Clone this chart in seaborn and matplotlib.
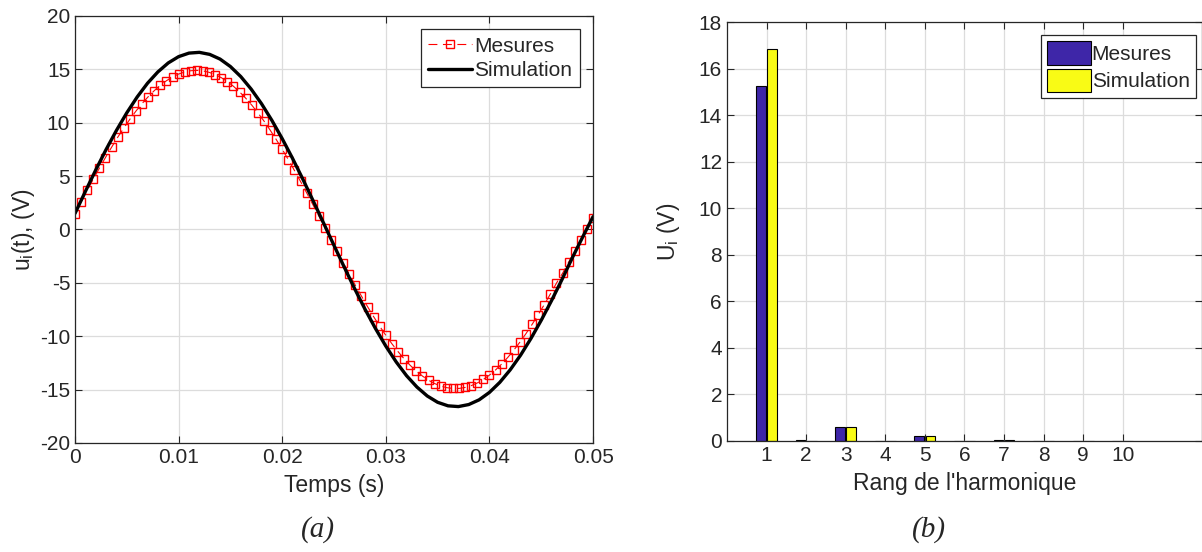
import numpy as np
import pandas as pd
import matplotlib
matplotlib.use("Agg")
import matplotlib.pyplot as plt
import seaborn as sns

# (a) measured voltage, one sample every 0.05/85 s
t_mes = np.linspace(0, 0.05, 86)
u_mes = [1.49, 2.58, 3.66, 4.71, 5.74, 6.74, 7.70, 8.63, 9.50, 10.32,
         11.09, 11.79, 12.43, 13.00, 13.51, 13.93, 14.29, 14.56, 14.75, 14.87,
         14.90, 14.85, 14.72, 14.51, 14.22, 13.85, 13.41, 12.89, 12.30, 11.65,
         10.93, 10.16, 9.32, 8.44, 7.51, 6.54, 5.53, 4.50, 3.44, 2.36,
         1.26, 0.16, -0.94, -2.03, -3.12, -4.18, -5.23, -6.24, -7.23, -8.17,
         -9.07, -9.92, -10.71, -11.44, -12.12, -12.73, -13.26, -13.73, -14.12, -14.43,
         -14.67, -14.82, -14.89, -14.89, -14.80, -14.63, -14.38, -14.05, -13.64, -13.16,
         -12.61, -11.99, -11.30, -10.55, -9.75, -8.89, -7.98, -7.03, -6.04, -5.02,
         -4.10, -3.05, -2.00, -0.95, 0.05, 1.10]

# (a) simulated voltage, one sample every 1 ms
t_sim = np.linspace(0, 0.05, 51)
u_sim = [1.50, 3.56, 5.57, 7.49, 9.28, 10.93, 12.41, 13.70, 14.76, 15.60,
         16.19, 16.52, 16.59, 16.40, 15.96, 15.26, 14.32, 13.15, 11.78, 10.22,
         8.50, 6.65, 4.69, 2.65, 0.58, -1.50, -3.56, -5.57, -7.49, -9.28,
         -10.93, -12.41, -13.70, -14.76, -15.60, -16.19, -16.52, -16.59, -16.40, -15.96,
         -15.26, -14.32, -13.15, -11.78, -10.22, -8.50, -6.65, -4.69, -2.65, -0.70,
         1.20]

# (b) harmonic spectrum
harmonics = [1, 2, 3, 4, 5, 6, 7, 8, 9, 10]
spec_mes = [15.25, 0.04, 0.58, 0.01, 0.20, 0.01, 0.04, 0.01, 0.01, 0.0]
spec_sim = [16.85, 0.02, 0.62, 0.01, 0.20, 0.01, 0.03, 0.0, 0.0, 0.0]

sns.set_style("ticks")
plt.rcParams['font.family'] = ['Liberation Sans', 'DejaVu Sans']
plt.rcParams['mathtext.fontset'] = 'custom'
plt.rcParams['mathtext.rm'] = 'Liberation Sans'
plt.rcParams['axes.unicode_minus'] = False
plt.rcParams['legend.numpoints'] = 1

dark = '#262626'
fs = 15
fs_lab = 16.5

fig = plt.figure(figsize=(12.02, 5.52), dpi=100)
ax1 = fig.add_axes([0.0624, 0.1975, 0.431, 0.7736])
ax2 = fig.add_axes([0.6048, 0.2011, 0.3952, 0.759])


def style_axes(ax):
    ax.grid(True, color='#dcdcdc', linewidth=0.9)
    ax.set_axisbelow(True)
    ax.tick_params(direction='in', top=True, right=True, length=5,
                   width=0.8, color=dark, labelcolor=dark, labelsize=fs)
    for sp in ax.spines.values():
        sp.set_visible(True)
        sp.set_color(dark)
        sp.set_linewidth(0.9)


# ---- (a) time signals
sns.lineplot(x=t_mes, y=u_mes, ax=ax1, color='red', linestyle=(0, (8, 5)),
             linewidth=0.8, marker='s', markersize=5.5, markerfacecolor='none',
             markeredgecolor='red', markeredgewidth=1.0, label='Mesures')
sns.lineplot(x=t_sim, y=u_sim, ax=ax1, color='black', linewidth=2.4,
             label='Simulation')
ax1.set_xlim(0, 0.05)
ax1.set_ylim(-20, 20)
ax1.set_xticks([0, 0.01, 0.02, 0.03, 0.04, 0.05])
ax1.set_xticklabels(['0', '0.01', '0.02', '0.03', '0.04', '0.05'])
ax1.set_yticks(range(-20, 21, 5))
style_axes(ax1)
ax1.set_xlabel('Temps (s)', fontsize=fs_lab, color=dark, labelpad=5)
ax1.set_ylabel(r'u$_\mathregular{i}$(t), (V)', fontsize=fs_lab, color=dark, labelpad=2)
leg1 = ax1.legend(loc='upper right', fontsize=fs, frameon=True, fancybox=False,
                  edgecolor=dark, framealpha=1, borderaxespad=0.65,
                  handlelength=2.1, handletextpad=0.1, borderpad=0.35,
                  labelspacing=0.25)
leg1.get_frame().set_linewidth(0.9)

# ---- (b) harmonic bars
df = pd.DataFrame({
    'rang': harmonics * 2,
    'val': spec_mes + spec_sim,
    'src': ['Mesures'] * len(harmonics) + ['Simulation'] * len(harmonics),
})
sns.barplot(data=df, x='rang', y='val', hue='src', ax=ax2, native_scale=True,
            palette=['#3e26a8', '#f9fb15'], width=0.56, gap=0.12,
            edgecolor='black', linewidth=0.8, saturation=1)
ax2.set_xlim(0, 12)
ax2.set_ylim(0, 18)
ax2.set_xticks(harmonics)
ax2.set_xticklabels([str(h) for h in harmonics])
ax2.set_yticks(range(0, 19, 2))
style_axes(ax2)
ax2.set_xlabel("Rang de l'harmonique", fontsize=fs_lab, color=dark, labelpad=5)
ax2.set_ylabel(r'U$_\mathregular{i}$ (V)', fontsize=fs_lab, color=dark, labelpad=12)
leg2 = ax2.legend(loc='upper right', bbox_to_anchor=(1 - 6 / 475, 1 - 13 / 419),
                  borderaxespad=0, fontsize=fs, frameon=True, fancybox=False,
                  edgecolor=dark, framealpha=1,
                  handlelength=2.1, handleheight=1.35, handletextpad=0.05,
                  borderpad=0.3, labelspacing=0.2, title=None)
leg2.get_frame().set_linewidth(0.9)

fig.text(318 / 1202, 1 - 530 / 552, '(a)', ha='center', va='center',
         family='Liberation Serif', style='italic', fontsize=21)
fig.text(929 / 1202, 1 - 530 / 552, '(b)', ha='center', va='center',
         family='Liberation Serif', style='italic', fontsize=21)

fig.savefig('out.png', dpi=100)
